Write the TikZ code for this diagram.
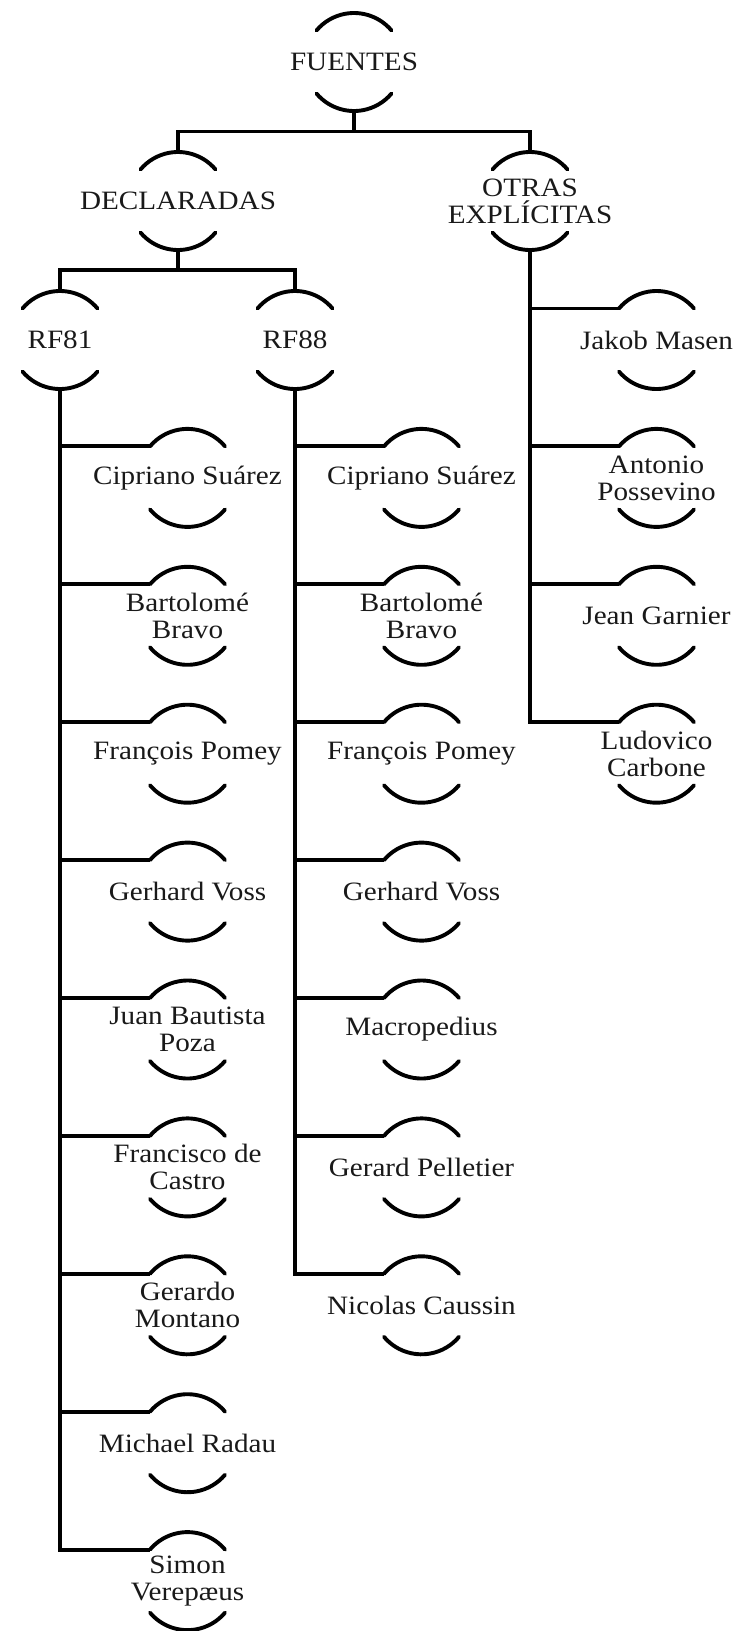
\documentclass[tikz,border=0pt]{standalone}
\usepackage{fontspec}
\setmainfont{Liberation Serif}[FakeStretch=1.1]
\usepackage{tikz}
\usetikzlibrary{positioning,calc}

\tikzset{
  ring/.style={circle, minimum size=98pt, inner sep=0pt, outer sep=0pt},
  trazo/.style={line width=3.9pt, black},
  nombre/.style={font=\fontsize{26.5}{27}\selectfont, align=center, text=black!90},
}
% circle with its upper and lower arcs, and its label
\newcommand{\autor}[3]{%
  \node[ring] (#1) at (#2) {};
  \node[nombre] (#1-t) at (#1.center) {#3};
  \draw[trazo, line cap=round] (#1.40) arc (40:140:49pt);
  \draw[trazo, line cap=round] (#1.220) arc (220:320:49pt);
}

\begin{document}
\begin{tikzpicture}[x=1pt,y=1pt]
		\useasboundingbox (0,0) rectangle (739,-1631);
		\autor{fuentes}{354,-62}{FUENTES}
		\autor{decl}{178,-201}{DECLARADAS}
		\autor{otras}{530,-201}{OTRAS\\EXPLÍCITAS}
		\autor{rf81}{60,-340}{RF81}
		\autor{rf88}{295,-340}{RF88}
		\draw[trazo] (fuentes.south) -- ++(0,-20.5) -| (decl.north);
		\draw[trazo] (fuentes.south) -- ++(0,-20.5) -| (otras.north);
		\draw[trazo] (decl.south) -- ++(0,-20) -| (rf81.north);
		\draw[trazo] (decl.south) -- ++(0,-20) -| (rf88.north);
		% RF81
		\foreach \k/\t in {1/{Cipriano Suárez}, 2/{Bartolomé\\Bravo}, 3/{François Pomey},
			4/{Gerhard Voss}, 5/{Juan Bautista\\Poza}, 6/{Francisco de\\Castro},
			7/{Gerardo\\Montano}, 8/{Michael Radau}, 9/{Simon\\Verepæus}}
		{
			\autor{a\k}{187.5,{-340-137.9*\k}}{\t}
			\draw[trazo] (rf81.south) |- (a\k.140);
		}
		% RF88
		\foreach \k/\t in {1/{Cipriano Suárez}, 2/{Bartolomé\\Bravo}, 3/{François Pomey},
			4/{Gerhard Voss}, 5/{Macropedius}, 6/{Gerard Pelletier}, 7/{Nicolas Caussin}}
		{
			\autor{b\k}{421.5,{-340-137.9*\k}}{\t}
			\draw[trazo] (rf88.south) |- (b\k.140);
		}
		% otras
		\foreach \k/\t in {0/{Jakob Masen}, 1/{Antonio\\Possevino}, 2/{Jean Garnier}, 3/{Ludovico\\Carbone}}
		{
			\autor{c\k}{656.5,{-340-137.9*\k}}{\t}
			\draw[trazo] (otras.south) |- (c\k.140);
		}
	\end{tikzpicture}
\end{document}
